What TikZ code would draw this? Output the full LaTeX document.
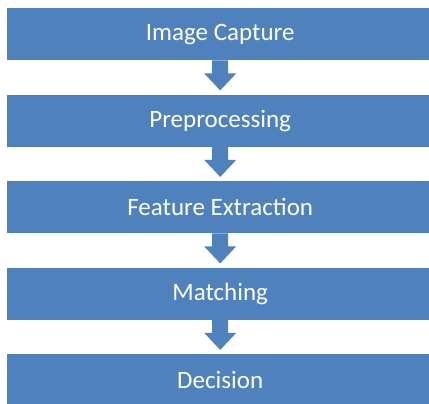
\documentclass[tikz,border=0pt]{standalone}
\usepackage{fontspec}
\setmainfont{Carlito}
\usetikzlibrary{calc}
\definecolor{boxblue}{HTML}{4F81BD}
\tikzset{
  stagebox/.style={fill=boxblue, draw=none, minimum width=426pt, minimum height=52pt,
    inner sep=0pt, text=white, font=\fontsize{25pt}{30pt}\selectfont, anchor=north west},
  flowarrow/.style={fill=boxblue, draw=none}
}
\newcommand{\downarrowshape}[1]{%
  \fill[flowarrow] ($(#1.south)+(-8pt,0)$) -- ++(0,-13pt) -- ++(-8pt,0) -- ($(#1.south)+(0,-30pt)$)
    -- ($(#1.south)+(16pt,-13pt)$) -- ++(-8pt,0) -- ($(#1.south)+(8pt,0)$) -- cycle;}
\begin{document}
\begin{tikzpicture}[x=1pt,y=1pt]
\useasboundingbox (0,0) rectangle (429,-404);
\clip (0,0) rectangle (429,-404);
\node[stagebox] (b1) at (7,-8) {Image Capture};
\node[stagebox] (b2) at (7,-94.5) {Preprocessing};
\node[stagebox] (b3) at (7,-181) {Feature Extraction};
\node[stagebox] (b4) at (7,-267.5) {Matching};
\node[stagebox] (b5) at (7,-354) {Decision};
\downarrowshape{b1}
\downarrowshape{b2}
\downarrowshape{b3}
\downarrowshape{b4}
\end{tikzpicture}
\end{document}
